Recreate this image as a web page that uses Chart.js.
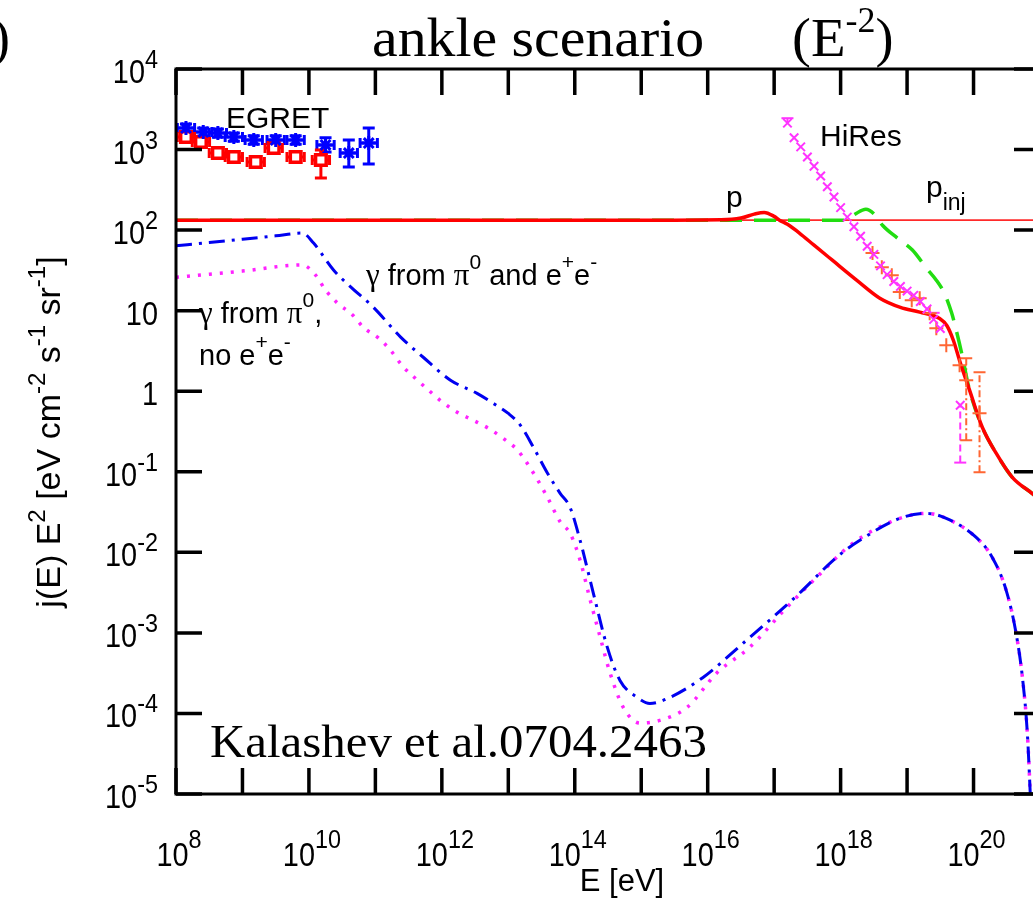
<!DOCTYPE html>
<html>
<head>
<meta charset="utf-8">
<title>ankle scenario</title>
<script src="https://cdn.jsdelivr.net/npm/chart.js@4.4.0/dist/chart.umd.min.js"></script>
<style>
  html, body { margin: 0; padding: 0; background: #fff; overflow: hidden; }
  #wrap { position: relative; width: 1033px; height: 899px; overflow: hidden; }
  #chart { position: absolute; left: 0; top: 0; }
</style>
</head>
<body>
<div id="wrap"><canvas id="chart" width="1060" height="899"></canvas></div>
<script>
// energies are log10(E / eV), fluxes are j(E) E^2 in eV cm^-2 s^-1 sr^-1

// propagated protons (p)
const protonLgE  = [8, 15.5, 16.2, 16.5, 16.7, 16.85, 17.0, 17.08, 17.2, 17.38, 17.6, 17.88, 18.24, 18.59, 18.9, 19.19, 19.49, 19.6, 19.7, 19.79, 19.94, 20.13, 20.34, 20.58, 20.88, 21];
const protonFlux = [133, 133, 134, 141, 158, 166, 148, 133, 118, 92, 65, 42, 24, 14.3, 11, 9.6, 8.0, 6.5, 4.2, 2.4, 1.03, 0.36, 0.17, 0.086, 0.054, 0.045];

// injected protons (p_inj), dashed
const injLgE  = [8, 16.5, 18.05, 18.2, 18.38, 18.5, 18.63, 18.85, 19.08, 19.3, 19.44, 19.56, 19.67, 19.74, 19.82, 19.94, 20.13, 20.34, 20.58, 20.88, 21];
const injFlux = [133, 133, 133, 155, 182, 160, 115, 80, 56.5, 33, 23.9, 16.5, 9.4, 5.7, 3.0, 1.03, 0.36, 0.17, 0.086, 0.054, 0.045];

// flat injection level
const injLevelLgE = [8, 21];
const injLevel    = [133, 133];

// gamma from pi0 and e+e-
const gammaLgE  = [8, 8.5, 9, 9.5, 9.9, 10.07, 10.37, 10.6, 10.97, 11.38, 11.72, 12.13, 12.53, 12.77, 13.0, 13.18, 13.38, 13.59, 13.78, 13.93, 14.08, 14.28, 14.49, 14.68, 14.94, 15.13, 15.43, 15.93, 16.53, 16.98, 17.38, 17.94, 18.29, 18.89, 19.29, 19.59, 20.04, 20.28, 20.49, 20.64, 20.74, 20.81, 20.87];
const gammaFlux = [64, 70, 77, 85, 92, 69, 32, 20.7, 11, 4.7, 2.64, 1.37, 0.94, 0.71, 0.53, 0.38, 0.2, 0.096, 0.054, 0.036, 0.0141, 0.0031, 6.6e-4, 2.57e-4, 1.58e-4, 1.33e-4, 1.58e-4, 2.8e-4, 7.4e-4, 1.56e-3, 3.1e-3, 8.7e-3, 0.0141, 0.0264, 0.0305, 0.0264, 0.0153, 8.7e-3, 3.4e-3, 9.9e-4, 2.6e-4, 5.6e-5, 5e-6];

// gamma from pi0 only, no e+e-
const pionLgE  = [8, 9, 9.9, 10.1, 10.25, 10.43, 10.66, 10.82, 11.05, 11.23, 11.42, 11.6, 11.8, 12.01, 12.23, 12.47, 12.7, 12.92, 13.14, 13.38, 13.59, 13.78, 13.93, 14.08, 14.23, 14.38, 14.53, 14.73, 14.98, 15.28, 15.69, 16.14, 16.63, 17.19, 17.64, 18.18, 18.89, 19.29, 19.59, 20.04, 20.28, 20.49, 20.64, 20.74, 20.81, 20.87];
const pionFlux = [26, 31, 37, 27.6, 18, 12.4, 8.8, 6.2, 4.55, 3.2, 2.0, 1.45, 1.03, 0.73, 0.55, 0.436, 0.347, 0.261, 0.185, 0.096, 0.048, 0.024, 0.0172, 8e-3, 2.6e-3, 9e-4, 3.2e-4, 1.19e-4, 7.6e-5, 8.2e-5, 1.19e-4, 3.2e-4, 6.6e-4, 2.07e-3, 4.9e-3, 0.0129, 0.0264, 0.0305, 0.0264, 0.0153, 8.7e-3, 3.4e-3, 9.9e-4, 2.6e-4, 5.6e-5, 5e-6];

// EGRET, squares
const egretALgE  = [8.15, 8.375, 8.63, 8.87, 9.2, 9.47, 9.8, 10.18];
const egretAFlux = [1430, 1240, 905, 807, 700, 1045, 807, 741];
const egretALo   = [1250, 1080, 790, 705, 610, 910, 705, 443];
const egretAHi   = [1640, 1420, 1040, 925, 800, 1200, 925, 986];

// EGRET, stars
const egretBLgE  = [8.15, 8.41, 8.63, 8.87, 9.17, 9.5, 9.8, 10.25, 10.6, 10.9];
const egretBFlux = [1850, 1650, 1600, 1430, 1310, 1310, 1310, 1140, 905, 1205];
const egretBLo   = [1650, 1470, 1420, 1270, 1160, 1160, 1160, 930, 606, 660];
const egretBHi   = [2080, 1850, 1800, 1610, 1480, 1480, 1480, 1400, 1312, 1850];

// HiRes
const hiresLgE  = [17.2, 17.3, 17.4, 17.5, 17.6, 17.7, 17.8, 17.9, 18.0, 18.1, 18.2, 18.3, 18.4, 18.5, 18.6, 18.7, 18.8, 18.9, 19.0, 19.1, 19.2, 19.3, 19.4, 19.5, 19.8];
const hiresFlux = [2130, 1400, 1080, 810, 620, 470, 345, 258, 190, 145, 110, 84, 63, 50, 36, 28, 23, 20, 17.5, 15.5, 13, 10.5, 7.8, 6.0, 0.67];
const hiresLo   = [null, null, null, null, null, null, null, null, null, null, null, null, null, null, null, null, null, null, null, null, null, null, null, null, 0.13];
const hiresHi   = [2450, null, null, null, null, null, null, null, null, null, null, null, null, null, null, null, null, null, null, null, null, null, 9.4, null, null];

// second UHECR data set, crosses
const uhecrLgE  = [18.48, 18.62, 18.77, 18.89, 19.07, 19.19, 19.34, 19.44, 19.59, 19.79, 19.89, 20.09];
const uhecrFlux = [51.8, 34.7, 27.6, 17.0, 13.5, 14.3, 9.3, 6.07, 3.73, 2.1, 1.37, 0.533];
const uhecrLo   = [null, null, null, null, null, null, null, null, null, null, 0.246, 0.099];
const uhecrHi   = [null, null, null, null, null, null, null, null, null, null, 2.57, 1.72];

// axis ticks (log10)
const xTickLg  = [8, 9, 10, 11, 12, 13, 14, 15, 16, 17, 18, 19, 20, 21];
const xLabelLg = [8, 10, 12, 14, 16, 18, 20];
const yTickLg  = [-5, -4, -3, -2, -1, 0, 1, 2, 3, 4];

const SANS = '"Liberation Sans", Arial, sans-serif';
const SERIF = '"Liberation Serif", "Times New Roman", serif';

const pts = (lg, v) => lg.map((l, i) => ({ x: Math.pow(10, l), y: v[i] }));

// draw a row of text runs (for superscripts / subscripts)
function drawRuns(ctx, runs, x, y, align, sx) {
  sx = sx || 1;
  let w = 0;
  runs.forEach(r => {
    ctx.font = r.font;
    r.w = ctx.measureText(r.text).width * (r.sx || sx) + (r.gap || 0);
    w += r.w;
  });
  let cx = align === 'center' ? x - w / 2 : align === 'right' ? x - w : x;
  runs.forEach(r => {
    ctx.save();
    ctx.font = r.font;
    ctx.translate(cx + (r.gap || 0), y + (r.dy || 0));
    ctx.scale(r.sx || sx, 1);
    ctx.fillText(r.text, 0, 0);
    ctx.restore();
    cx += r.w;
  });
}

// error bars, drawn under the markers
const errorBars = {
  id: 'errorBars',
  beforeDatasetsDraw(chart) {
    const { ctx, scales: { x, y } } = chart;
    chart.data.datasets.forEach(ds => {
      if (!ds.errLo && !ds.binHalf) return;
      ctx.save();
      ctx.strokeStyle = ds.borderColor;
      ctx.lineWidth = ds.errWidth || 2;
      ds.data.forEach((p, i) => {
        const px = x.getPixelForValue(p.x);
        const py = y.getPixelForValue(p.y);
        if (ds.binHalf) {
          const f = Math.pow(10, ds.binHalf);
          const x0 = x.getPixelForValue(p.x / f);
          const x1 = x.getPixelForValue(p.x * f);
          ctx.setLineDash([]);
          ctx.beginPath();
          ctx.moveTo(x0, py); ctx.lineTo(x1, py);
          ctx.moveTo(x0, py - 5); ctx.lineTo(x0, py + 5);
          ctx.moveTo(x1, py - 5); ctx.lineTo(x1, py + 5);
          ctx.stroke();
        }
        const lo = ds.errLo ? ds.errLo[i] : null;
        const hi = ds.errHi ? ds.errHi[i] : null;
        if (lo == null && hi == null) return;
        const y0 = y.getPixelForValue(lo == null ? p.y : lo);
        const y1 = y.getPixelForValue(hi == null ? p.y : hi);
        ctx.setLineDash(ds.errDash || []);
        ctx.beginPath();
        ctx.moveTo(px, y0); ctx.lineTo(px, y1);
        ctx.stroke();
        ctx.setLineDash([]);
        ctx.beginPath();
        if (lo != null) { ctx.moveTo(px - 6, y0); ctx.lineTo(px + 6, y0); }
        if (hi != null) { ctx.moveTo(px - 6, y1); ctx.lineTo(px + 6, y1); }
        ctx.stroke();
      });
      ctx.restore();
    });
  }
};

// frame, inward ticks, tick labels and all the text
const decorations = {
  id: 'decorations',
  afterDraw(chart) {
    const { ctx, chartArea: a, scales: { x, y } } = chart;
    ctx.save();
    ctx.strokeStyle = '#000';
    ctx.fillStyle = '#000';
    ctx.lineWidth = 3.5;
    ctx.beginPath();
    xTickLg.forEach(lg => {
      const px = x.getPixelForValue(Math.pow(10, lg));
      ctx.moveTo(px, a.bottom); ctx.lineTo(px, a.bottom - 26);
      ctx.moveTo(px, a.top); ctx.lineTo(px, a.top + 26);
    });
    yTickLg.forEach(lg => {
      const py = y.getPixelForValue(Math.pow(10, lg));
      ctx.moveTo(a.left, py); ctx.lineTo(a.left + 26, py);
      ctx.moveTo(a.right, py); ctx.lineTo(a.right - 26, py);
    });
    ctx.stroke();
    ctx.lineWidth = 3;
    ctx.strokeRect(a.left, a.top, a.right - a.left, a.bottom - a.top);

    ctx.textBaseline = 'alphabetic';
    ctx.textAlign = 'left';
    const base = '34px ' + SANS;
    const sup = '26px ' + SANS;

    xLabelLg.forEach(lg => {
      const px = x.getPixelForValue(Math.pow(10, lg));
      drawRuns(ctx, [
        { text: '10', font: base, sx: 0.85 },
        { text: String(lg), font: sup, dy: -18, sx: 0.9 }
      ], px + 3, 866, 'center');
    });
    yTickLg.forEach(lg => {
      const py = y.getPixelForValue(Math.pow(10, lg));
      const runs = lg === 0 ? [{ text: '1', font: base, sx: 0.85 }]
        : lg === 1 ? [{ text: '10', font: base, sx: 0.85 }]
        : [{ text: '10', font: base, sx: 0.85 }, { text: String(lg), font: sup, dy: -15, sx: 0.9 }];
      drawRuns(ctx, runs, 158, py + 14, 'right');
    });

    // axis titles
    drawRuns(ctx, [{ text: 'E [eV]', font: '31px ' + SANS }], 622, 891, 'center');
    ctx.save();
    ctx.translate(60, 432);
    ctx.rotate(-Math.PI / 2);
    const yt = '34px ' + SANS, ys = '24px ' + SANS;
    drawRuns(ctx, [
      { text: 'j(E) E', font: yt }, { text: '2', font: ys, dy: -15 },
      { text: ' [eV cm', font: yt }, { text: '-2', font: ys, dy: -15 },
      { text: ' s', font: yt }, { text: '-1', font: ys, dy: -15 },
      { text: ' sr', font: yt }, { text: '-1', font: ys, dy: -15 },
      { text: ']', font: yt }
    ], 0, 0, 'center');
    ctx.restore();

    // title
    drawRuns(ctx, [{ text: ')', font: '54px ' + SERIF }], -8, 56, 'left');
    drawRuns(ctx, [{ text: 'ankle scenario', font: '54px ' + SERIF, sx: 1.07 }], 372, 56, 'left');
    drawRuns(ctx, [
      { text: '(E', font: '54px ' + SERIF, sx: 1.05 },
      { text: '-2', font: '36px ' + SERIF, dy: -24 },
      { text: ')', font: '54px ' + SERIF }
    ], 792, 56, 'left');

    drawRuns(ctx, [{ text: 'Kalashev et al.0704.2463', font: '47px ' + SERIF, sx: 1.04 }], 210, 757, 'left');

    // curve and data labels
    const lab = '30px ' + SANS, labS = '21px ' + SANS, g = '31px ' + SERIF;
    drawRuns(ctx, [{ text: 'EGRET', font: lab }], 226, 128, 'left');
    drawRuns(ctx, [{ text: 'HiRes', font: lab }], 820, 146, 'left');
    drawRuns(ctx, [{ text: 'p', font: lab }], 726, 207, 'left');
    drawRuns(ctx, [{ text: 'p', font: lab }, { text: 'inj', font: '23px ' + SANS, dy: 13 }], 926, 197, 'left');

    const lab2 = '29px ' + SANS;
    drawRuns(ctx, [
      { text: 'γ', font: g }, { text: ' from ', font: lab2 }, { text: 'π', font: g },
      { text: '0', font: labS, dy: -16 }, { text: ' and e', font: lab2 },
      { text: '+', font: labS, dy: -16 }, { text: 'e', font: lab2 }, { text: '-', font: labS, dy: -16 }
    ], 366, 285, 'left');
    drawRuns(ctx, [
      { text: 'γ', font: g }, { text: ' from ', font: lab2 }, { text: 'π', font: g },
      { text: '0', font: labS, dy: -16 }, { text: ',', font: lab2 }
    ], 199, 323, 'left');
    drawRuns(ctx, [
      { text: 'no e', font: lab2 }, { text: '+', font: labS, dy: -16 },
      { text: 'e', font: lab2 }, { text: '-', font: labS, dy: -16 }
    ], 199, 365, 'left');
    ctx.restore();
  }
};

const curve = (data, color, width, dash) => ({
  data, borderColor: color, borderWidth: width, borderDash: dash || [],
  showLine: true, pointRadius: 0, fill: false, cubicInterpolationMode: 'monotone'
});

new Chart(document.getElementById('chart'), {
  type: 'scatter',
  data: {
    datasets: [
      // markers first in the list so they sit on top
      {
        data: pts(egretBLgE, egretBFlux), errLo: egretBLo, errHi: egretBHi, binHalf: 0.13, errWidth: 3,
        borderColor: '#0000ff', backgroundColor: '#0000ff', pointStyle: 'star', pointRadius: 7, pointBorderWidth: 3
      },
      {
        data: pts(egretALgE, egretAFlux), errLo: egretALo, errHi: egretAHi, binHalf: 0.13, errWidth: 3,
        borderColor: '#ff0000', backgroundColor: '#ffffff', pointStyle: 'rect', pointRadius: 7.5, pointBorderWidth: 3.5
      },
      {
        data: pts(hiresLgE, hiresFlux), errLo: hiresLo, errHi: hiresHi, errDash: [7, 4],
        borderColor: '#ff33ff', backgroundColor: '#ff33ff', pointStyle: 'crossRot', pointRadius: 6, pointBorderWidth: 2
      },
      {
        data: pts(uhecrLgE, uhecrFlux), errLo: uhecrLo, errHi: uhecrHi, errDash: [7, 3, 2, 3],
        borderColor: '#ff6633', backgroundColor: '#ff6633', pointStyle: 'cross', pointRadius: 7, pointBorderWidth: 2
      },
      curve(pts(protonLgE, protonFlux), '#ff0000', 3.5),
      curve(pts(injLgE, injFlux), '#22dd11', 3.5, [22, 12]),
      curve(pts(injLevelLgE, injLevel), '#ff2a2a', 1.6),
      curve(pts(gammaLgE, gammaFlux), '#0000f0', 3, [16, 7, 3, 7]),
      curve(pts(pionLgE, pionFlux), '#ff22ff', 3.5, [3, 8])
    ]
  },
  options: {
    responsive: false,
    animation: false,
    devicePixelRatio: 1,
    layout: { padding: { left: 176, right: 20, top: 69, bottom: 105 } },
    scales: {
      x: { type: 'logarithmic', min: 1e8, max: 1e21, display: false },
      y: { type: 'logarithmic', min: 1e-5, max: 1e4, display: false }
    },
    plugins: { legend: { display: false }, tooltip: { enabled: false } }
  },
  plugins: [errorBars, decorations]
});
</script>
</body>
</html>
